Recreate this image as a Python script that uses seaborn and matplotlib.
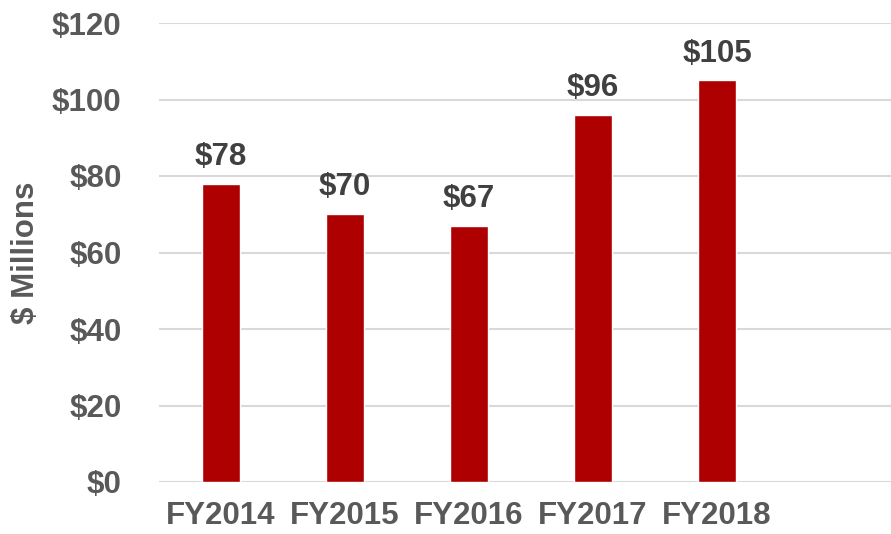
import pandas as pd
import matplotlib.pyplot as plt
import seaborn as sns

# funding by fiscal year, $ millions
years = ['FY2014', 'FY2015', 'FY2016', 'FY2017', 'FY2018']
amounts = [78, 70, 67, 96, 105]
y_ticks = [0, 20, 40, 60, 80, 100, 120]

df = pd.DataFrame({'year': years, 'amount': amounts})

sns.set_style('white')
plt.rcParams['font.family'] = ['Liberation Sans', 'DejaVu Sans']
plt.rcParams['font.weight'] = 'bold'

fig = plt.figure(figsize=(8.91, 5.34), dpi=100)
ax = fig.add_axes([159 / 891, 52 / 534, 744 / 891, 459 / 534])

sns.barplot(data=df, x='year', y='amount', color='#AE0000', width=0.31,
            saturation=1, ax=ax, zorder=3)

ax.set_xlim(-0.5, 5.5)
ax.set_ylim(0, 120)
ax.set_yticks(y_ticks)
ax.set_yticklabels([f'${t}' for t in y_ticks])
ax.set_xticks(range(len(years)))
ax.set_xticklabels(years)
ax.grid(axis='y', color='#D9D9D9', linewidth=1.5, zorder=0)
ax.tick_params(axis='y', length=0, pad=27, labelsize=22.5, labelcolor='#595959')
ax.tick_params(axis='x', length=0, pad=14, labelsize=22.5, labelcolor='#595959')
for lab in ax.get_xticklabels() + ax.get_yticklabels():
    lab.set_fontweight('bold')
for s in ax.spines.values():
    s.set_visible(False)
ax.set_xlabel('')
ax.set_ylabel('')

for i, v in enumerate(amounts):
    ax.annotate(f'${v}', (i, v), xytext=(0, 13.5), textcoords='offset points',
                ha='center', va='baseline', fontsize=22.5, fontweight='bold',
                color='#404040')

fig.text(26 / 891, 1 - 253 / 534, '$ Millions', rotation=90, ha='center',
         va='center', fontsize=22.5, fontweight='bold', color='#595959')

fig.savefig('out.png', dpi=100)
